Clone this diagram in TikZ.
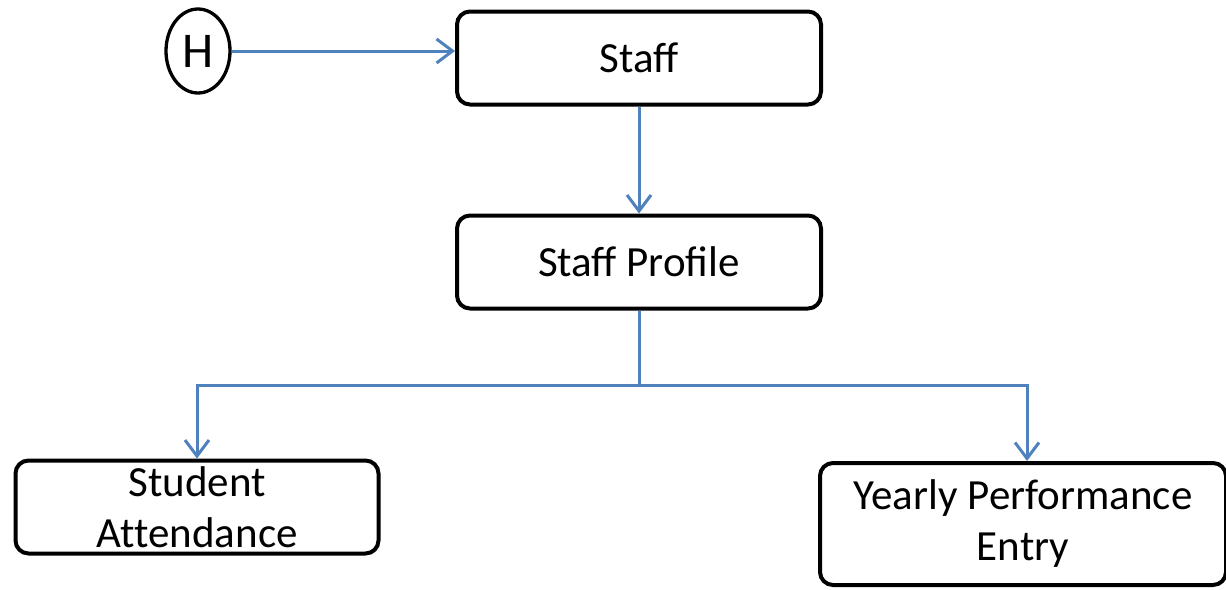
\documentclass[tikz,border=0pt]{standalone}
\usepackage{fontspec}
\setmainfont{Carlito}
\usetikzlibrary{arrows.meta,shapes.geometric}
\definecolor{linkblue}{RGB}{79,129,189}
\begin{document}
\begin{tikzpicture}[x=1pt,y=-1pt,
	 font=\fontsize{43}{51}\selectfont]

	 % style of the boxes and links
	 \tikzstyle{box}=[draw,line width=4pt,rounded corners=13pt,inner sep=0pt,align=center]
	 \tikzstyle{link}=[draw=linkblue,line width=3pt,-{Straight Barb[length=16pt,width=24pt]}]

	 \useasboundingbox (0,0) rectangle (1226,589);

	 \node [draw,ellipse,line width=3.3pt,minimum width=64pt,minimum height=84pt,inner sep=0pt,font=\fontsize{50}{60}\selectfont] (head) at (198,51) {H};
	 \node [box,minimum width=364pt,minimum height=93pt] (staff) at (639,58) {Staff};
	 \node [box,minimum width=364pt,minimum height=93pt] (profile) at (639,262) {Staff Profile};
	 \node [box,minimum width=363pt,minimum height=93pt] (attendance) at (197,507) {Student\\At\kern0pt tendance};
	 \node [box,minimum width=406pt,minimum height=122pt] (yearly) at (1023,524) {Yearly Performance\\Entry};
	 \coordinate (split) at (639,385);

	 \draw [link] (head.east) -- (head.east -| staff.west);
	 \draw [link] (staff.south) -- (profile.north);
	 \draw [draw=linkblue,line width=3pt] (profile.south) -- (split);
	 \draw [link] (split) -| (attendance.north);
	 \draw [link] (split) -| ([xshift=4pt]yearly.north);

\end{tikzpicture}
\end{document}
